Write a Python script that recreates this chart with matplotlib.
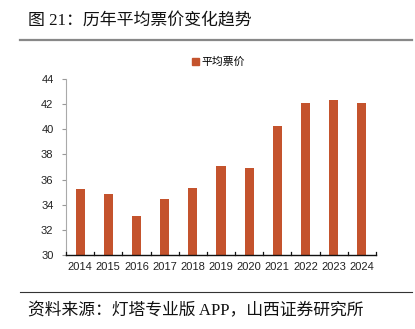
import matplotlib
matplotlib.use("Agg")
import matplotlib.pyplot as plt
from matplotlib.lines import Line2D
from matplotlib.patches import Patch

years = ["2014", "2015", "2016", "2017", "2018", "2019", "2020", "2021", "2022", "2023", "2024"]
avg_price = [35.28, 34.82, 33.1, 34.42, 35.3, 37.08, 36.95, 40.26, 42.07, 42.3, 42.07]
yticks = [30, 32, 34, 36, 38, 40, 42, 44]
series_name = "平均票价"
title = "图 21：历年平均票价变化趋势"
source = "资料来源：灯塔专业版 APP，山西证券研究所"

bar_color = "#C4532D"
cjk = ["Liberation Serif", "Noto Sans CJK SC"]

fig = plt.figure(figsize=(4.15, 3.29), dpi=100)
ax = fig.add_axes([66/415, 1-255/329, 310/415, (255-79)/329])

x = list(range(len(years)))
ax.bar(x, avg_price, width=0.32, color=bar_color, zorder=2)
ax.set_xlim(-0.5, len(years) - 0.5)
ax.set_ylim(30, 44)
ax.set_yticks(yticks)
ax.set_yticklabels([str(v) for v in yticks], fontsize=8, family="Liberation Sans", color="#222222")
ax.set_xticks(x)
ax.set_xticklabels(years, fontsize=8, family="Liberation Sans", color="#222222")
ax.tick_params(axis="x", length=0, pad=5)
ax.tick_params(axis="y", length=3, width=0.8, color="#999999", pad=6)

for s in ["top", "right"]:
    ax.spines[s].set_visible(False)
ax.spines["left"].set_color("#AAAAAA")
ax.spines["left"].set_linewidth(0.8)
ax.spines["bottom"].set_color("#111111")
ax.spines["bottom"].set_linewidth(1.0)

# boundary ticks pointing up from x-axis
for b in [i + 0.5 for i in range(-1, len(years))]:
    ax.plot([b, b], [30, 30.25], color="#111111", lw=0.9, clip_on=False, zorder=3)

ax.legend(handles=[Patch(color=bar_color, label=series_name)],
          loc="center", bbox_to_anchor=(0.527, 1 - 62/329), bbox_transform=fig.transFigure,
          frameon=False, handlelength=0.6, handleheight=0.6, handletextpad=0.3,
          prop={"family": ["Noto Sans CJK SC"], "size": 7.8})

fig.text(28/415, 1 - 21/329, title, fontsize=12.2, family=cjk, va="center", ha="left", color="#111111")
fig.add_artist(Line2D([20/415, 412/415], [1 - 40/329, 1 - 40/329], color="#888888", lw=1.6))
fig.add_artist(Line2D([20/415, 412/415], [1 - 292/329, 1 - 292/329], color="#333333", lw=0.8))
fig.text(28/415, 1 - 311/329, source, fontsize=12.1, family=cjk, va="center", ha="left", color="#111111")

fig.savefig("out.png", dpi=100)
